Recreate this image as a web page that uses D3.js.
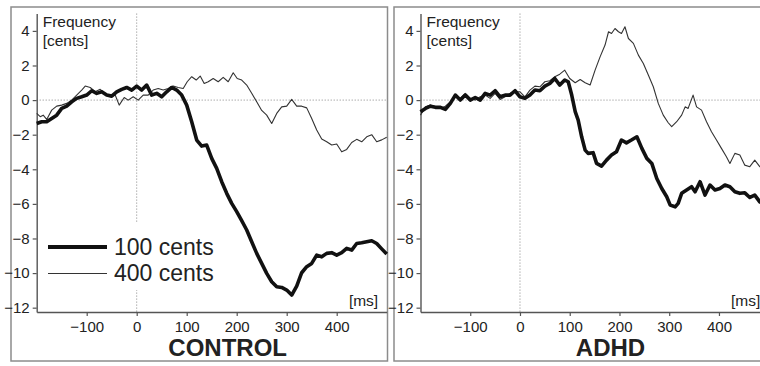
<!DOCTYPE html>
<html>
<head>
<meta charset="utf-8">
<script src="https://cdn.jsdelivr.net/npm/d3@7"></script>
<style>
  body { margin: 0; background: #fff; }
  svg { display: block; }
  text { font-family: "Liberation Sans", Arial, sans-serif; fill: #222; }
</style>
</head>
<body>
<svg id="chart" width="760" height="366"></svg>
<script>
// ---- data ----
const xTicks = [-100, 0, 100, 200, 300, 400];
const yTicks = [4, 2, 0, -2, -4, -6, -8, -10, -12];
const legendLabels = ["100 cents", "400 cents"];
const panelTitles = ["CONTROL", "ADHD"];

// CONTROL, 100 cents (thick)
const ctrlT100 = [-200,-190,-180,-170,-160,-150,-140,-130,-120,-110,-100,-90,-80,-70,-60,-50,-40,-30,-20,-10,0,10,20,30,40,50,60,70,80,90,100,110,120,130,140,150,160,170,180,190,200,210,220,230,240,250,260,270,280,290,300,310,320,330,340,350,360,370,380,390,400,410,420,430,440,450,460,470,480,490,500];
const ctrl100 = [-1.35,-1.25,-1.25,-1.06,-0.87,-0.48,-0.35,-0.1,0.1,0.19,0.29,0.54,0.39,0.48,0.29,0.23,0.48,0.62,0.73,0.58,0.81,0.58,0.87,0.29,0.39,0.19,0.48,0.73,0.58,0.29,-0.29,-1.25,-2.31,-2.66,-2.6,-3.37,-3.95,-4.72,-5.39,-5.97,-6.45,-6.97,-7.51,-8.19,-8.86,-9.44,-10.02,-10.5,-10.79,-10.83,-10.98,-11.27,-10.75,-9.98,-9.63,-9.44,-8.96,-9.06,-8.86,-8.82,-8.96,-8.82,-8.57,-8.67,-8.29,-8.25,-8.19,-8.13,-8.29,-8.6,-8.9];

// CONTROL, 400 cents (thin)
const ctrlT400 = [-200,-193,-187,-180,-170,-160,-150,-140,-130,-120,-110,-103,-93,-83,-73,-63,-53,-43,-35,-25,-17,-7,3,13,23,33,43,53,63,73,83,93,101,110,119,127,135,143,153,163,173,183,193,201,210,220,230,240,250,260,270,280,290,300,310,320,330,340,350,360,370,380,390,400,410,420,430,440,450,460,470,480,490,500];
const ctrl400 = [-0.77,-0.96,-0.87,-1.12,-0.58,-0.35,-0.29,-0.19,0,0.29,0.58,0.81,0.73,0.48,0.62,0.39,0.19,0.29,-0.29,0.15,0,0.19,0,0.29,0.29,0.58,0.67,0.58,0.67,0.81,0.73,0.67,1.06,1.35,1.16,1.39,0.96,1.06,1.25,1.06,1.31,1.06,1.58,1.25,1.16,0.87,0.4,-0.1,-0.6,-0.87,-1.35,-0.77,-0.39,-0.35,0.04,-0.35,-0.35,-0.45,-1.06,-1.73,-2.25,-2.41,-2.6,-2.54,-2.99,-2.85,-2.45,-2.27,-2.41,-2.12,-2.0,-2.41,-2.3,-2.15];

// ADHD, 100 cents (thick)
const adhdT100 = [-200,-190,-180,-170,-160,-150,-140,-130,-120,-110,-100,-90,-80,-70,-60,-50,-40,-30,-20,-10,0,10,20,30,40,50,60,70,80,90,97,104,111,117,124,131,137,147,154,164,174,184,194,204,214,224,235,245,255,265,275,285,295,302,312,318,325,335,345,352,362,372,382,392,402,412,422,432,442,452,462,472,482,490,500];
const adhd100 = [-0.67,-0.48,-0.35,-0.42,-0.42,-0.54,-0.19,0.29,0,0.29,0,0.15,0,0.39,0.29,0.54,0.19,0.29,0.29,0.54,0.19,0.1,0.29,0.58,0.54,0.81,0.96,1.25,0.87,1.16,1.06,0.29,-0.67,-1.16,-2.12,-2.89,-3.08,-3.04,-3.66,-3.82,-3.47,-3.18,-2.99,-2.31,-2.47,-2.31,-2.12,-2.79,-3.37,-3.66,-4.53,-5.11,-5.59,-6.07,-6.17,-5.97,-5.39,-5.2,-5.01,-5.3,-4.72,-5.49,-4.91,-5.2,-5.11,-4.91,-5.01,-5.3,-5.39,-5.36,-5.63,-5.49,-5.88,-6.0,-5.9];

// ADHD, 400 cents (thin)
const adhdT400 = [-200,-190,-180,-170,-160,-150,-140,-130,-120,-110,-100,-90,-80,-70,-60,-50,-40,-30,-20,-10,0,10,20,30,40,50,60,70,80,90,100,111,121,131,141,151,161,171,178,184,191,198,204,211,218,228,238,248,258,268,278,288,298,305,315,325,332,338,348,355,365,375,385,395,405,415,422,432,442,452,462,472,482,490,500];
const adhd400 = [-0.87,-0.39,-0.29,-0.39,-0.48,-0.35,-0.1,0.19,0.1,0.39,0.1,0,0.19,0.29,0.1,0.39,0.04,0.19,0.39,0.48,0.48,0.19,0.58,0.81,0.77,1.06,1.12,1.35,1.5,1.73,1.25,1.0,1.19,1.0,0.87,1.73,2.5,3.18,3.95,3.85,4.14,3.95,3.85,4.24,3.56,3.28,2.6,2.12,1.45,0.77,-0.19,-0.87,-1.31,-1.54,-1.25,-0.87,-0.39,-0.48,0.29,-0.39,-0.58,-1.25,-1.83,-2.31,-2.79,-3.28,-3.66,-3.08,-3.18,-3.76,-3.85,-3.47,-3.85,-3.9,-4.0];

const svg = d3.select("#chart");

const yScale = d3.scaleLinear().domain([-12.25, 5]).range([312, 13.6]);

function drawPanel(frameX, frameW, xRange, title, series, withLegend) {
    const xScale = d3.scaleLinear().domain([-200, 500]).range(xRange);
    const g = svg.append("g");

    // frame
    g.append("rect")
        .attr("x", frameX).attr("y", 7)
        .attr("width", frameW).attr("height", 354)
        .attr("fill", "none")
        .attr("stroke", "#8c8c8c")
        .attr("stroke-width", 1.5);

    // dotted reference lines
    g.append("line")
        .attr("x1", xScale(-200)).attr("x2", xScale(500))
        .attr("y1", yScale(0)).attr("y2", yScale(0))
        .attr("stroke", "#666").attr("stroke-width", 0.8)
        .attr("stroke-dasharray", "1,2");
    g.append("line")
        .attr("x1", xScale(0)).attr("x2", xScale(0))
        .attr("y1", yScale(5)).attr("y2", yScale(-12.25))
        .attr("stroke", "#666").attr("stroke-width", 0.8)
        .attr("stroke-dasharray", "1,2");

    if (withLegend) {
        g.append("rect")
            .attr("x", 44).attr("y", 223)
            .attr("width", 176).attr("height", 67)
            .attr("fill", "#fff");
    }

    // axes
    const xAxis = g.append("g")
        .attr("transform", `translate(0,${yScale(-12.25)})`)
        .call(d3.axisBottom(xScale).tickValues(xTicks).tickSize(4).tickSizeOuter(0).tickPadding(5));
    const yAxis = g.append("g")
        .attr("transform", `translate(${xScale(-200)},0)`)
        .call(d3.axisLeft(yScale).tickValues(yTicks).tickSize(4).tickSizeOuter(0).tickPadding(3));
    [xAxis, yAxis].forEach(a => {
        a.select(".domain").attr("stroke", "#555").attr("stroke-width", 1.4);
        a.selectAll(".tick line").attr("stroke", "#555").attr("stroke-width", 1.2);
        a.selectAll(".tick text")
            .style("font-family", "'Liberation Sans', Arial, sans-serif")
            .style("font-size", "15px")
            .attr("fill", "#222");
    });

    // curves
    const line = d3.line()
        .x(d => xScale(d[0]))
        .y(d => yScale(d[1]));
    series.forEach(s => {
        g.append("path")
            .datum(d3.zip(s.t, s.v))
            .attr("fill", "none")
            .attr("stroke", s.thick ? "#111" : "#333")
            .attr("stroke-width", s.thick ? 3.6 : 1.1)
            .attr("stroke-linejoin", "round")
            .attr("d", line);
    });

    // labels
    g.append("text")
        .attr("x", xScale(-200) + 6).attr("y", 27)
        .style("font-size", "15.5px")
        .text("Frequency");
    g.append("text")
        .attr("x", xScale(-200) + 6).attr("y", 46)
        .style("font-size", "15.5px")
        .text("[cents]");
    g.append("text")
        .attr("x", xScale(483)).attr("y", 306)
        .attr("text-anchor", "end")
        .style("font-size", "15.5px")
        .text("[ms]");
    g.append("text")
        .attr("x", xScale(182)).attr("y", 356)
        .attr("text-anchor", "middle")
        .style("font-size", "24px")
        .style("font-weight", "bold")
        .attr("fill", "#111")
        .text(title);

    if (withLegend) {
        const lg = g.append("g");
        [0, 1].forEach(i => {
            const yy = 247 + i * 26.5;
            lg.append("line")
                .attr("x1", 48).attr("x2", 107)
                .attr("y1", yy).attr("y2", yy)
                .attr("stroke", i === 0 ? "#111" : "#333")
                .attr("stroke-width", i === 0 ? 4 : 1.1);
            lg.append("text")
                .attr("x", 114).attr("y", yy + 7.5)
                .style("font-size", "23px")
                .text(legendLabels[i]);
        });
    }
}

drawPanel(11, 376.5, [36.7, 386.7], panelTitles[0], [
    { t: ctrlT400, v: ctrl400, thick: false },
    { t: ctrlT100, v: ctrl100, thick: true }
], true);

drawPanel(394, 420, [420.5, 768.7], panelTitles[1], [
    { t: adhdT400, v: adhd400, thick: false },
    { t: adhdT100, v: adhd100, thick: true }
], false);
</script>
</body>
</html>
